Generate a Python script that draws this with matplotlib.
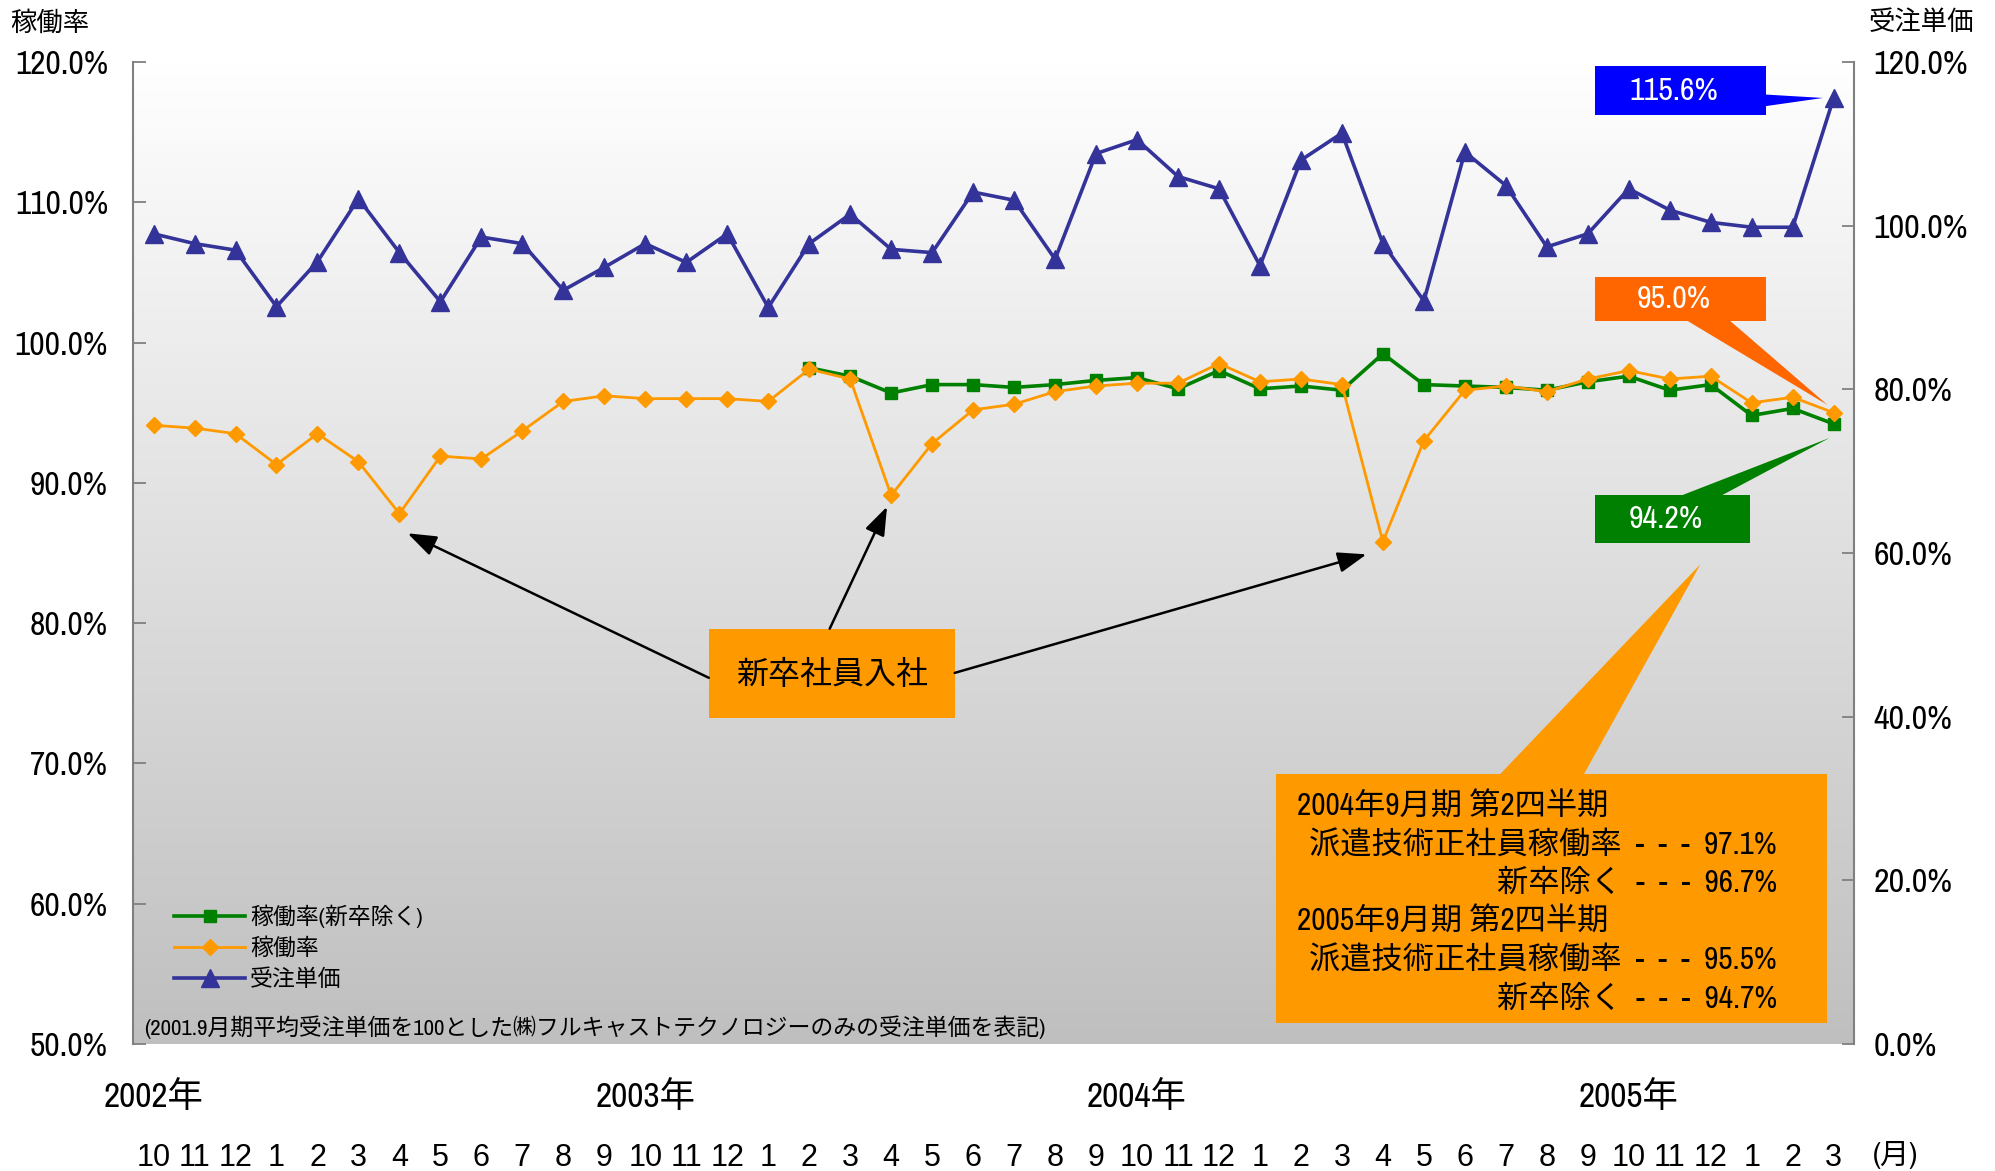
import numpy as np
import matplotlib
matplotlib.use("Agg")
import matplotlib.pyplot as plt
from matplotlib import font_manager
from matplotlib.colors import LinearSegmentedColormap
from matplotlib.patches import Polygon, Rectangle
from matplotlib.transforms import blended_transform_factory

# ---- data ----
months = ["10", "11", "12", "1", "2", "3", "4", "5", "6", "7", "8", "9",
          "10", "11", "12", "1", "2", "3", "4", "5", "6", "7", "8", "9",
          "10", "11", "12", "1", "2", "3", "4", "5", "6", "7", "8", "9",
          "10", "11", "12", "1", "2", "3"]
years = ["2002年", "2003年", "2004年", "2005年"]
year_pos = [0, 12, 24, 36]

# 稼働率 (left axis)
rate = [94.1, 93.9, 93.5, 91.3, 93.5, 91.5, 87.8, 91.9, 91.7, 93.7, 95.8, 96.2,
        96.0, 96.0, 96.0, 95.8, 98.1, 97.4, 89.1, 92.8, 95.2, 95.6, 96.5, 96.9,
        97.1, 97.1, 98.5, 97.2, 97.4, 97.0, 85.8, 93.0, 96.6, 96.9, 96.5, 97.4,
        98.0, 97.4, 97.6, 95.7, 96.1, 95.0]
# 稼働率(新卒除く) (left axis), starts at 2003/2
rate_ex = [np.nan] * 16 + [98.2, 97.6, 96.4, 97.0, 97.0, 96.8, 97.0, 97.3,
                           97.5, 96.7, 98.0, 96.7, 96.9, 96.6, 99.2, 97.0,
                           96.9, 96.8, 96.6, 97.2, 97.6, 96.6, 97.0, 94.8,
                           95.3, 94.2]
# 受注単価 (right axis)
price = [99.0, 97.8, 97.0, 90.1, 95.6, 103.3, 96.7, 90.7, 98.6, 97.8, 92.1, 94.9,
         97.8, 95.5, 99.0, 90.0, 97.8, 101.4, 97.1, 96.7, 104.1, 103.1, 95.9, 108.8,
         110.5, 106.0, 104.5, 95.1, 108.0, 111.3, 97.8, 90.8, 109.0, 104.9, 97.4, 99.0,
         104.5, 101.9, 100.4, 99.8, 99.8, 115.6]

summary_left = ["2004年9月期 第2四半期", "2005年9月期 第2四半期"]
summary_right = [["派遣技術正社員稼働率  -  -  -  97.1%", "新卒除く  -  -  -  96.7%"],
                 ["派遣技術正社員稼働率  -  -  -  95.5%", "新卒除く  -  -  -  94.7%"]]
note = "(2001.9月期平均受注単価を100とした㈱フルキャストテクノロジーのみの受注単価を表記)"

# ---- fonts ----
names = {f.name for f in font_manager.fontManager.ttflist}
NARROW = next((n for n in ["Liberation Sans Narrow", "Archivo Narrow", "Liberation Sans"]
               if n in names), "DejaVu Sans")
JP = "Noto Sans CJK JP"
plt.rcParams["font.family"] = [NARROW, JP]

GREEN = "#008000"
ORANGE = "#ff9900"
NAVY = "#333399"
AXIS_GREY = "#808080"

fig = plt.figure(figsize=(19.95, 11.71), dpi=100)
ax = fig.add_axes([0.0667, 0.1085, 0.8627, 0.8386])
ax2 = ax.twinx()

# gradient plot background
bg = LinearSegmentedColormap.from_list("bg", ["#bfbfbf", "#ffffff"])
grad = np.linspace(1, 0, 256).reshape(-1, 1)
ax.imshow(grad, extent=[0, 1, 0, 1], transform=ax.transAxes, cmap=bg,
          aspect="auto", zorder=0)

x = np.arange(len(months))
l1, = ax.plot(x, rate_ex, color=GREEN, lw=2.6, marker="s", ms=9, zorder=3)
l2, = ax.plot(x, rate, color=ORANGE, lw=2.0, marker="D", ms=8.5, zorder=4)
l3, = ax2.plot(x, price, color=NAVY, lw=2.6, marker="^", ms=12.5, zorder=3)

ax.set_xlim(-0.5, 41.5)
ax.set_ylim(50, 120)
ax2.set_ylim(0, 120)

ax.set_yticks(range(50, 121, 10), [f"{v:.1f}%" for v in range(50, 121, 10)])
ax2.set_yticks(range(0, 121, 20), [f"{v:.1f}%" for v in range(0, 121, 20)])
ax.tick_params(axis="y", direction="in", length=9, width=1.3, color=AXIS_GREY,
               labelsize=24, pad=18)
ax2.tick_params(axis="y", direction="in", length=9, width=1.3, color=AXIS_GREY,
                labelsize=24.5, pad=14)
ax.set_xticks(x, months)
ax.tick_params(axis="x", length=0, labelsize=22, pad=71)
for t in ax.get_xticklabels():
    t.set_fontfamily("Liberation Sans")

for s in ["top", "bottom", "right"]:
    ax.spines[s].set_visible(False)
for s in ["top", "bottom", "left"]:
    ax2.spines[s].set_visible(False)
ax.spines["left"].set_color(AXIS_GREY)
ax.spines["left"].set_linewidth(1.5)
ax2.spines["right"].set_color(AXIS_GREY)
ax2.spines["right"].set_linewidth(1.5)

# year labels under the axis
trans = blended_transform_factory(ax.transData, fig.transFigure)
for pos, yr in zip(year_pos, years):
    ax.text(pos, 0.064, yr, transform=trans, ha="center", va="center", fontsize=25.5)
fig.text(1895 / 1995, 1 - 1155 / 1171, "(月)", ha="center", va="center", fontsize=21)

# axis titles
fig.text(10 / 1995, 1 - 22 / 1171, "稼働率", ha="left", va="center", fontsize=19)
fig.text(1974 / 1995, 1 - 22 / 1171, "受注単価", ha="right", va="center", fontsize=19)


def r2l(v):
    """Right-axis value to left-axis scale."""
    return 50 + v * 70 / 120


def callout(x0, x1, y0, y1, wedge, color, text=None, fs=23, tcolor="white"):
    ax.add_patch(Rectangle((x0, y0), x1 - x0, y1 - y0, fc=color, ec="none", zorder=2))
    ax.add_patch(Polygon(wedge, closed=True, fc=color, ec="none", zorder=2))
    if text:
        ax.text((x0 + x1) / 2 - 0.15, (y0 + y1) / 2, text, ha="center", va="center",
                fontsize=fs, color=tcolor, zorder=5)


# last-value callouts
p_last = r2l(price[-1])
callout(35.17, 39.34, 116.2, 119.7,
        [(39.3, p_last + 0.25), (39.3, p_last - 0.6), (40.74, p_last)],
        "#0000ff", f"{price[-1]:.1f}%")
callout(35.17, 39.34, 101.5, 104.7,
        [(37.4, 101.6), (38.45, 101.6), (40.85, rate[-1] + 0.55)],
        "#ff6600", f"{rate[-1]:.1f}%")
callout(35.17, 38.95, 85.7, 89.1,
        [(37.2, 89.0), (38.2, 89.0), (40.9, rate_ex[-1] - 1.0)],
        GREEN, f"{rate_ex[-1]:.1f}%")

# summary box
callout(27.4, 40.84, 51.5, 69.25,
        [(32.85, 69.2), (34.9, 69.2), (37.75, 84.2)], ORANGE)
rows = [66.97, 64.2, 61.48, 58.77, 55.99, 53.22]
for k in range(2):
    ax.text(27.9, rows[3 * k], summary_left[k], ha="left", va="center",
            fontsize=22.5, zorder=5)
    for j, line in enumerate(summary_right[k]):
        ax.text(39.62, rows[3 * k + 1 + j], line, ha="right", va="center",
                fontsize=22.5, zorder=5)

# new-graduate box with arrows
ax.add_patch(Rectangle((13.55, 73.2), 6.0, 6.4, fc=ORANGE, ec="none", zorder=2))
ax.text(16.55, 76.4, "新卒社員入社", ha="center", va="center", fontsize=23, zorder=5)
arrow = dict(arrowstyle="-|>,head_length=0.5,head_width=0.18", color="black",
             lw=1.8, mutation_scale=35, shrinkA=0, shrinkB=0)
ax.annotate("", xy=(6.2, rate[6] - 1.4), xytext=(13.55, 76.1), arrowprops=arrow, zorder=5)
ax.annotate("", xy=(17.9, rate[18] - 0.8), xytext=(16.5, 79.6), arrowprops=arrow, zorder=5)
ax.annotate("", xy=(29.6, rate[30] - 0.9), xytext=(19.55, 76.45), arrowprops=arrow, zorder=5)

# legend and note
ax.legend([l1, l2, l3], ["稼働率(新卒除く)", "稼働率", "受注単価"],
          loc="upper left", bbox_to_anchor=(0.024, 0.142), frameon=False,
          fontsize=16.5, handlelength=3.1, handletextpad=0.2, labelspacing=0.4,
          borderaxespad=0, borderpad=0)
ax.text(0.0067, 0.0173, note, transform=ax.transAxes, ha="left", va="center",
        fontsize=16.5, zorder=5)

fig.savefig("out.png", dpi=100)
